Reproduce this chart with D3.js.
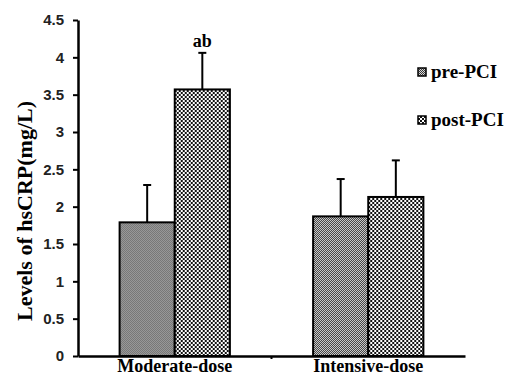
<!DOCTYPE html>
<html>
<head>
<meta charset="utf-8">
<script src="https://cdn.jsdelivr.net/npm/d3@7"></script>
<style>
  body { margin: 0; background: #fff; }
</style>
</head>
<body>
<div id="chart"></div>
<script>
// data
var groups = ["Moderate-dose", "Intensive-dose"];
var series = ["pre-PCI", "post-PCI"];
var means = [[1.79, 3.57], [1.87, 2.13]];
var errors = [[0.50, 0.49], [0.50, 0.49]];
var yTicks = [0, 0.5, 1, 1.5, 2, 2.5, 3, 3.5, 4, 4.5];
var marks = [["", "ab"], ["", ""]];

var W = 507, H = 376;
var margin = {top: 20, right: 42, bottom: 20, left: 78},
    width = W - margin.left - margin.right,
    height = H - margin.top - margin.bottom;

var svg = d3.select("#chart")
  .append("svg")
    .attr("width", W)
    .attr("height", H)
    .style("font-family", "'Liberation Serif', 'Times New Roman', serif");

// fill patterns
var defs = svg.append("defs");
var p1 = defs.append("pattern").attr("id", "pat-pre")
  .attr("width", 2).attr("height", 2).attr("patternUnits", "userSpaceOnUse");
p1.append("rect").attr("width", 2).attr("height", 2).attr("fill", "#d8d8d8");
p1.append("rect").attr("width", 1).attr("height", 1).attr("fill", "#383838");
p1.append("rect").attr("x", 1).attr("y", 1).attr("width", 1).attr("height", 1).attr("fill", "#383838");

var p2 = defs.append("pattern").attr("id", "pat-post")
  .attr("width", 4).attr("height", 4).attr("patternUnits", "userSpaceOnUse");
p2.append("rect").attr("width", 4).attr("height", 4).attr("fill", "#111");
p2.append("rect").attr("width", 2).attr("height", 2).attr("fill", "#fff");
p2.append("rect").attr("x", 2).attr("y", 2).attr("width", 2).attr("height", 2).attr("fill", "#fff");

var fills = ["url(#pat-pre)", "url(#pat-post)"];

var g = svg.append("g")
  .attr("transform", "translate(" + margin.left + "," + margin.top + ")");

var x0 = d3.scaleBand()
  .domain(groups)
  .range([0, width])
  .paddingInner(0.43)
  .paddingOuter(0.215);

var x1 = d3.scaleBand()
  .domain(series)
  .range([0, x0.bandwidth()]);

var y = d3.scaleLinear()
  .domain([0, 4.5])
  .range([height, 0]);

// bars
var rows = [];
groups.forEach(function(grp, i) {
  series.forEach(function(s, j) {
    rows.push({grp: grp, s: s, j: j, v: means[i][j], e: errors[i][j], m: marks[i][j]});
  });
});

var bar = g.selectAll(".bar")
  .data(rows)
  .enter().append("g")
    .attr("transform", function(d) { return "translate(" + (x0(d.grp) + x1(d.s)) + ",0)"; });

// error bars (upper only)
bar.append("line")
  .attr("x1", x1.bandwidth() / 2).attr("x2", x1.bandwidth() / 2)
  .attr("y1", function(d) { return y(d.v); })
  .attr("y2", function(d) { return y(d.v + d.e); })
  .attr("stroke", "#000").attr("stroke-width", 2);
bar.append("line")
  .attr("x1", x1.bandwidth() / 2 - 4).attr("x2", x1.bandwidth() / 2 + 4)
  .attr("y1", function(d) { return y(d.v + d.e); })
  .attr("y2", function(d) { return y(d.v + d.e); })
  .attr("stroke", "#000").attr("stroke-width", 2);

bar.append("rect")
  .attr("y", function(d) { return y(d.v); })
  .attr("width", x1.bandwidth())
  .attr("height", function(d) { return height - y(d.v); })
  .attr("fill", function(d) { return fills[d.j]; })
  .attr("stroke", "#000")
  .attr("stroke-width", 2);

bar.append("text")
  .attr("x", x1.bandwidth() / 2)
  .attr("y", function(d) { return y(d.v + d.e) - 6; })
  .attr("text-anchor", "middle")
  .style("font-size", "18px")
  .style("font-weight", "bold")
  .text(function(d) { return d.m; });

// y axis
var yAxis = g.append("g")
  .call(d3.axisLeft(y).tickValues(yTicks).tickSize(5).tickSizeOuter(0).tickFormat(d3.format("")));
yAxis.select(".domain").attr("stroke-width", 2.5);
yAxis.selectAll(".tick line").attr("stroke-width", 2);
yAxis.selectAll(".tick text")
  .attr("x", -14)
  .style("font-family", "'Liberation Sans', Arial, sans-serif")
  .style("font-size", "15px")
  .style("font-weight", "bold")
  .attr("fill", "#222");

// x axis
var xAxis = g.append("g")
  .attr("transform", "translate(0," + height + ")")
  .call(d3.axisBottom(x0).tickSize(0).tickPadding(3));
xAxis.select(".domain").attr("stroke-width", 2.5);
xAxis.selectAll(".tick text")
  .style("font-family", "'Liberation Serif', 'Times New Roman', serif")
  .style("font-size", "18px")
  .style("font-weight", "bold")
  .attr("fill", "#000");
// small tick between the two groups
xAxis.append("line")
  .attr("x1", width / 2).attr("x2", width / 2)
  .attr("y1", 0).attr("y2", 3)
  .attr("stroke", "#000").attr("stroke-width", 2);

// y axis title
g.append("text")
  .attr("transform", "rotate(-90)")
  .attr("x", -(211 - margin.top))
  .attr("y", -margin.left + 32)
  .attr("text-anchor", "middle")
  .style("font-size", "22px")
  .style("font-weight", "bold")
  .text("Levels of hsCRP(mg/L)");

// legend
var legend = svg.append("g").attr("transform", "translate(418,68)");
var item = legend.selectAll("g")
  .data(series)
  .enter().append("g")
    .attr("transform", function(d, i) { return "translate(0," + (i * 48) + ")"; });
item.append("rect")
  .attr("width", 8).attr("height", 8)
  .attr("fill", function(d, i) { return fills[i]; })
  .attr("stroke", "#000").attr("stroke-width", 1.5);
item.append("text")
  .attr("x", 13).attr("y", 10)
  .style("font-size", "19px")
  .style("font-weight", "bold")
  .text(function(d) { return d; });
</script>
</body>
</html>
